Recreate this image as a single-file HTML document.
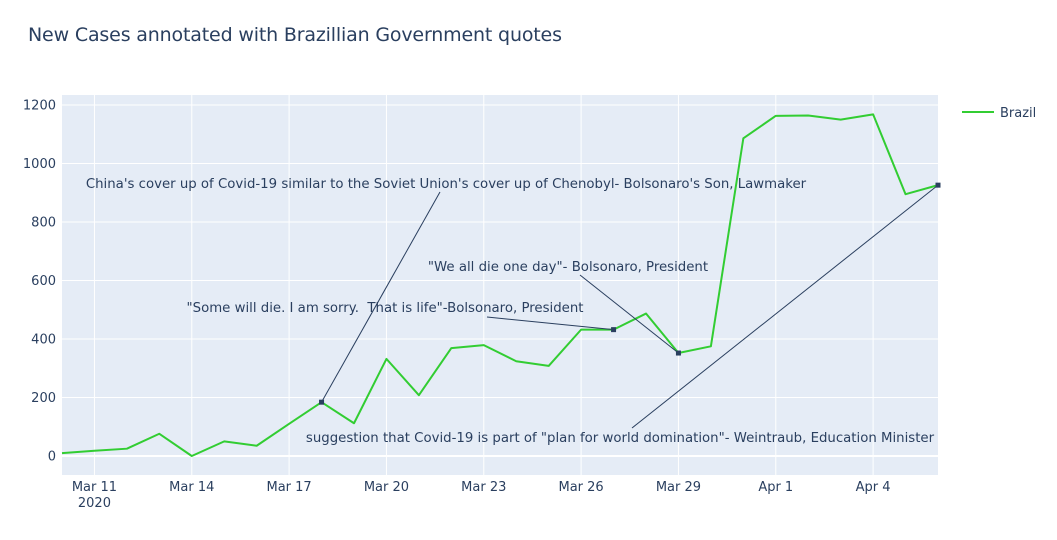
<!DOCTYPE html>
<html><head><meta charset="utf-8"><style>
body{margin:0;background:#fff}
svg{font-family:"DejaVu Sans","Liberation Sans",sans-serif}
</style></head><body>
<svg id="c" width="1057" height="535">
<rect width="1057" height="535" fill="#fff"/>
<text x="28" y="41" font-size="19" fill="#2a3f5f" textLength="534">New Cases annotated with Brazillian Government quotes</text>
<rect x="62" y="95" width="876" height="380" fill="#e5ecf6"/>
<g id="grid"></g><g id="series"></g><g id="ann"></g><g id="axes"></g>
<g>
<line x1="962" y1="112" x2="994" y2="112" stroke="#32cd32" stroke-width="2"/>
<text x="1000" y="117" font-size="13" fill="#2a3f5f">Brazil</text>
</g>
</svg>
<script>
const days=[0,1,2,3,4,5,6,7,8,9,10,11,12,13,14,15,16,17,18,19,20,21,22,23,24,25,26,27];
const cases=[10,18,25,76,0,50,35,110,184,112,332,208,369,379,324,308,432,432,487,352,375,1086,1163,1164,1150,1168,895,926];
const yTicks=[0,200,400,600,800,1000,1200];
const xTickDays=[1,4,7,10,13,16,19,22,25];
const xTickLabels=["Mar 11","Mar 14","Mar 17","Mar 20","Mar 23","Mar 26","Mar 29","Apr 1","Apr 4"];
const annDays=[8,17,19,27];
const annTexts=["China's cover up of Covid-19 similar to the Soviet Union's cover up of Chenobyl- Bolsonaro's Son, Lawmaker","\"Some will die. I am sorry.  That is life\"-Bolsonaro, President","\"We all die one day\"- Bolsonaro, President","suggestion that Covid-19 is part of \"plan for world domination\"- Weintraub, Education Minister"];
const annTextPos=[[446,188],[385,312],[568,271],[620,442]];
const annTail=[[440,192],[487,317],[580,275],[632,428]];
const X=d=>62+d*(876/27), Y=v=>456-v*0.2925;
const NS="http://www.w3.org/2000/svg";
function mk(p,t,a){const e=document.createElementNS(NS,t);for(const k in a)e.setAttribute(k,a[k]);document.getElementById(p).appendChild(e);return e;}
yTicks.forEach(v=>{
 const l=mk('grid','line',{x1:62,x2:938,y1:Y(v),y2:Y(v),stroke:'#fff','stroke-width':v===0?2:1});
 
 
 const t=mk('axes','text',{x:56,y:Y(v)+4.5,'text-anchor':'end','font-size':13,fill:'#2a3f5f'});t.textContent=v;
 
 
});
xTickDays.forEach((d,i)=>{
 const l=mk('grid','line',{x1:X(d),x2:X(d),y1:95,y2:475,stroke:'#fff','stroke-width':1});
 
 
 const t=mk('axes','text',{x:X(d),y:491,'text-anchor':'middle','font-size':13,fill:'#2a3f5f'});t.textContent=xTickLabels[i];
 
 
});
const yr=mk('axes','text',{x:X(1),y:507,'text-anchor':'middle','font-size':13,fill:'#2a3f5f'});yr.textContent='2020';


const pl=mk('series','polyline',{points:days.map((d,i)=>X(d)+','+Y(cases[i])).join(' '),fill:'none',stroke:'#32cd32','stroke-width':2,'stroke-linejoin':'round'});


annDays.forEach((d,i)=>{
 const px=X(d),py=Y(cases[d]);
 const l=mk('ann','line',{x1:annTail[i][0],y1:annTail[i][1],x2:px,y2:py,stroke:'#2a3f5f','stroke-width':1});
 
 
 const m=mk('ann','rect',{x:px-2.5,y:py-2.5,width:5,height:5,fill:'#2a3f5f'});
 
 
 const t=mk('ann','text',{x:annTextPos[i][0],y:annTextPos[i][1],'text-anchor':'middle','font-size':13.3,fill:'#2a3f5f'});
 t.textContent=annTexts[i];t.setAttribute('xml:space','preserve');t.style.whiteSpace='pre';
 
 
});
</script>
</body></html>
